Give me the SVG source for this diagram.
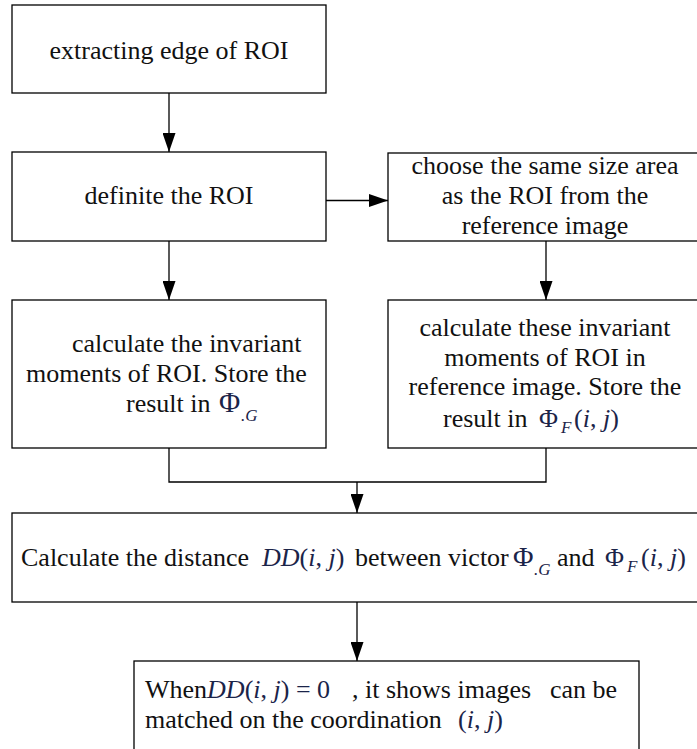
<svg xmlns="http://www.w3.org/2000/svg" width="697" height="749" viewBox="0 0 697 749">
<defs>
<marker id="ah" markerUnits="userSpaceOnUse" markerWidth="20" markerHeight="13" refX="19" refY="6.5" orient="auto">
<path d="M0,0 L19,6.5 L0,13 z" fill="#000"/>
</marker>
<style>
.box{fill:#fff;stroke:#000;stroke-width:1.3}
.t{font-family:"Liberation Serif","Times New Roman",serif;font-size:26px;fill:#111}
.c{text-anchor:middle}
.m{fill:#1b2449}
.i{font-style:italic}
.s{font-size:17px;font-style:italic}
.con{fill:none;stroke:#000;stroke-width:1.3}
</style>
</defs>
<rect width="697" height="749" fill="#fff"/>
<g id="connectors">
<line class="con" x1="169" y1="93" x2="169" y2="152" marker-end="url(#ah)"/>
<line class="con" x1="326" y1="200.5" x2="388" y2="200.5" marker-end="url(#ah)"/>
<line class="con" x1="546" y1="241" x2="546" y2="300" marker-end="url(#ah)"/>
<line class="con" x1="169" y1="241" x2="169" y2="300" marker-end="url(#ah)"/>
<polyline class="con" points="169,448 169,482 546,482 546,448"/>
<line class="con" x1="357" y1="482" x2="357" y2="513" marker-end="url(#ah)"/>
<line class="con" x1="357" y1="602" x2="357" y2="661" marker-end="url(#ah)"/>
</g>
<g id="n1">
<rect class="box" x="12" y="5" width="314" height="88"/>
<text class="t c" x="169" y="59">extracting edge of ROI</text>
</g>
<g id="n2">
<rect class="box" x="12" y="152" width="314" height="89"/>
<text class="t c" x="169" y="204">definite the ROI</text>
</g>
<g id="n3">
<rect class="box" x="388" y="153" width="330" height="88"/>
<text class="t c" x="545" y="174">choose the same size area</text>
<text class="t c" x="545" y="204">as the ROI from the</text>
<text class="t c" x="545" y="234">reference image</text>
</g>
<g id="n4">
<rect class="box" x="12" y="300" width="314" height="148"/>
<text class="t" x="72" y="352">calculate the invariant</text>
<text class="t" x="26" y="382">moments of ROI. Store the</text>
<text class="t" x="126" y="412">result in <tspan class="m" x="219" style="font-size:29px">Φ</tspan><tspan class="m s" x="241" dy="9">.G</tspan></text>
</g>
<g id="n5">
<rect class="box" x="388" y="300" width="330" height="148"/>
<text class="t c" x="545" y="336">calculate these invariant</text>
<text class="t c" x="545" y="366">moments of ROI in</text>
<text class="t c" x="545" y="395">reference image. Store the</text>
<text class="t" x="443" y="427">result in <tspan class="m" x="539">Φ</tspan><tspan class="m s" x="561" dy="6">F</tspan><tspan class="m" x="574" dy="-6">(<tspan class="i">i</tspan>, <tspan class="i">j</tspan>)</tspan></text>
</g>
<g id="n6">
<rect class="box" x="12" y="513" width="700" height="89"/>
<text class="t" x="21" y="566">Calculate the distance <tspan class="m i" x="262">DD</tspan><tspan class="m">(<tspan class="i">i</tspan>, <tspan class="i">j</tspan>)</tspan><tspan x="355">between victor</tspan><tspan class="m" x="513" style="font-size:28px">Φ</tspan><tspan class="m s" x="534" dy="9">.G</tspan><tspan x="557" dy="-9">and</tspan><tspan class="m" x="605">Φ</tspan><tspan class="m s" x="627" dy="6">F</tspan><tspan class="m" x="641" dy="-6">(<tspan class="i">i</tspan>, <tspan class="i">j</tspan>)</tspan></text>
</g>
<g id="n7">
<rect class="box" x="134" y="661" width="505" height="100"/>
<text class="t" x="145" y="698">When<tspan class="m i">DD</tspan><tspan class="m">(<tspan class="i">i</tspan>, <tspan class="i">j</tspan>) = 0</tspan><tspan x="352">, it shows images</tspan><tspan x="550">can be</tspan></text>
<text class="t" x="145" y="728">matched on the coordination <tspan class="m" x="458">(<tspan class="i">i</tspan>, <tspan class="i">j</tspan>)</tspan></text>
</g>
</svg>
